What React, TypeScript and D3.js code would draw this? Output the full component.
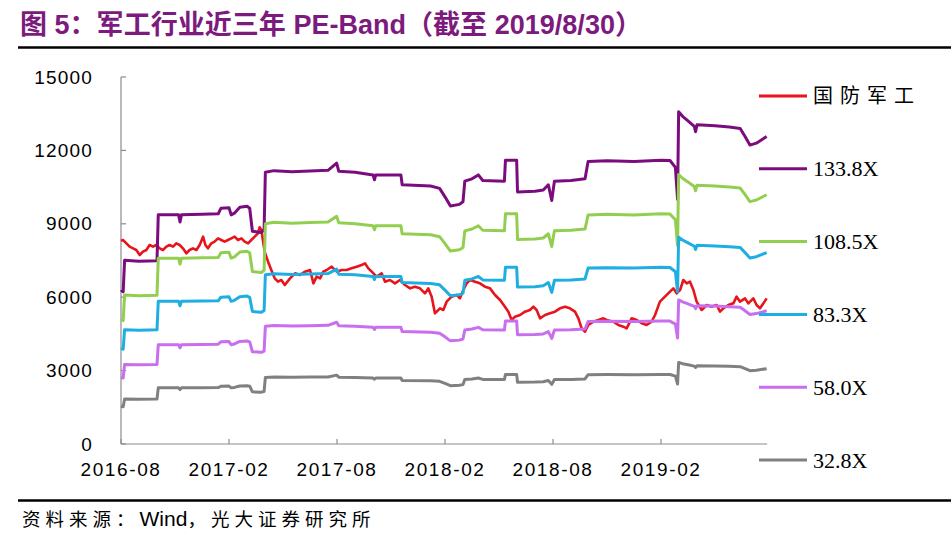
import React from 'react';
import * as d3 from 'd3';

const W = 951;
const H = 539;

const titleText = '图 5：军工行业近三年 PE-Band（截至 2019/8/30）';
const sourcePrefix = '资料来源：';
const sourceName = 'Wind';
const sourceSuffix = '，光大证券研究所';

// x values are months elapsed since 2016-08-30
const xTickMonths = [0, 6, 12, 18, 24, 30];
const xTickLabels = ['2016-08', '2017-02', '2017-08', '2018-02', '2018-08', '2019-02'];
const yTicks = [0, 3000, 6000, 9000, 12000, 15000];

const indexName = '国防军工';
const indexColor = '#E8141B';
const bandNames = ['133.8X', '108.5X', '83.3X', '58.0X', '32.8X'];
const bandMultiples = [133.8, 108.5, 83.3, 58.0, 32.8];
const bandColors = ['#7B0C7E', '#92CF50', '#1FAEE2', '#C86EEE', '#808080'];

// index earnings per unit (TTM)
const epsMonths = [
  0, 0.12, 0.2, 1.0, 2.0, 2.07, 3.2, 3.28, 3.36, 4.5, 5.4, 5.55, 6.0, 6.12, 6.3, 6.6, 7.0, 7.15, 7.3, 7.8,
  7.95, 8.02, 8.5, 9.5, 10.5, 11.5, 11.98, 12.1, 13.0, 14.0, 14.08, 14.15, 15.55, 15.62, 17.2, 17.7, 18.0,
  18.3, 18.8, 19.0, 19.1, 19.5, 19.85, 20.1, 21.3, 21.36, 21.98, 22.03, 23.0, 23.46, 23.74, 23.93, 24.08,
  25.0, 25.78, 25.95, 27.0, 28.5, 30.0, 30.5, 30.8, 30.92, 30.98, 31.2, 31.5, 31.85, 31.92, 32.0, 33.0,
  33.8, 34.4, 34.67, 34.94, 35.3, 35.87,
];
const epsValues = [
  47.1, 46.5, 56.1, 55.8, 56.0, 70.0, 70.0, 67.8, 70.0, 70.2, 70.3, 72.0, 72.2, 70.0, 70.5, 72.3, 72.6, 72.0, 65.0, 64.6,
  65.5, 83.0, 83.5, 83.2, 83.4, 83.6, 85.8, 83.3, 83.0, 82.2, 80.7, 82.2, 82.2, 79.2, 78.8, 78.1, 75.5,
  72.7, 73.2, 74.0, 80.3, 81.0, 82.2, 80.5, 80.3, 86.7, 86.7, 77.0, 77.2, 77.6, 79.2, 74.4, 80.3,
  80.5, 81.0, 86.3, 86.5, 86.3, 86.7, 86.6, 84.5, 74.7, 101.5, 100.1, 98.7, 97.0, 95.4, 97.5, 97.2,
  96.8, 96.4, 93.9, 91.3, 91.9, 93.9,
];

const indexMonths = [
  0, 0.11, 0.3, 0.48, 0.67, 0.85, 1.04, 1.22, 1.41, 1.59, 1.78, 1.96, 2.15, 2.33, 2.52, 2.7, 2.89, 3.07, 3.26,
  3.44, 3.63, 3.81, 4.0, 4.19, 4.37, 4.56, 4.69, 4.83, 5.02, 5.2, 5.39, 5.57, 5.76, 5.94, 6.13, 6.31, 6.5,
  6.69, 6.87, 7.06, 7.24, 7.43, 7.61, 7.7, 7.8, 7.98, 8.17, 8.35, 8.54, 8.72, 8.91, 9.1, 9.39, 9.67, 9.94,
  10.22, 10.5, 10.69, 10.87, 11.06, 11.24, 11.43, 11.7, 11.98, 12.26, 12.54, 12.81, 13.09, 13.37, 13.56,
  13.74, 13.93, 14.2, 14.48, 14.67, 14.94, 15.22, 15.5, 15.78, 16.06, 16.33, 16.61, 16.89, 17.07, 17.26,
  17.44, 17.72, 17.91, 18.09, 18.37, 18.65, 18.83, 19.02, 19.2, 19.39, 19.67, 19.94, 20.22, 20.5, 20.78,
  21.06, 21.33, 21.52, 21.7, 21.89, 22.17, 22.44, 22.72, 22.91, 23.09, 23.28, 23.56, 23.83, 24.11, 24.39,
  24.67, 24.94, 25.22, 25.41, 25.59, 25.78, 25.96, 26.24, 26.52, 26.8, 26.98, 27.35, 27.63, 27.91, 28.09,
  28.37, 28.65, 28.94, 29.2, 29.48, 29.67, 29.94, 30.22, 30.5, 30.69, 30.87, 31.06, 31.24, 31.43, 31.61,
  31.8, 31.98, 32.26, 32.54, 32.81, 33.09, 33.28, 33.46, 33.74, 34.02, 34.2, 34.39, 34.67, 34.85, 35.13,
  35.31, 35.5, 35.69, 35.87,
];
const indexValues = [
  8300, 8337, 8201, 8065, 7997, 7929, 7724, 7861, 7929, 8133, 8065, 8133, 7997, 7929, 8065, 8133, 8065, 8201, 8133,
  7997, 7793, 7929, 7997, 7929, 8133, 8474, 8133, 7997, 8201, 8270, 8406, 8337, 8270, 8337, 8406, 8474, 8337,
  8406, 8270, 8201, 8337, 8474, 8610, 8860, 8746, 7861, 7452, 7111, 6771, 6634, 6703, 6498, 6771, 6975, 6907,
  7043, 7111, 6566, 6839, 6771, 7043, 7111, 7247, 7043, 7111, 7111, 7179, 7247, 7316, 7384,
  7179, 7043, 6839, 6975, 6634, 6703, 6566, 6703, 6498, 6362, 6430, 6362, 6158, 6362, 6021,
  5340, 5545, 5477, 5817, 6021, 6090, 5953, 6294, 6566, 6703, 6634, 6566, 6430, 6362, 6090,
  5885, 5613, 5408, 5068, 5204, 5272, 5408, 5477, 5613, 5477, 5136, 5272, 5340, 5408, 5545,
  5613, 5545, 5408, 5136, 4727, 4590, 4863, 5000, 5068, 5136, 5068, 5000, 4863, 4795, 4727,
  5136, 5068, 4932, 4863, 5000, 5272, 5817, 6021, 6226, 6362, 6158, 6294, 6703, 6566, 6634,
  6294, 5817, 5477, 5681, 5613, 5681, 5408, 5545, 5681, 5749, 6021, 5817, 5953, 5749, 5953,
  5681, 5545, 5749, 5953,
];

const PLOT_LEFT = 121;
const PLOT_RIGHT = 769;
const PLOT_TOP = 77;
const PLOT_BOTTOM = 444;

export default function App() {
  const x = d3.scaleLinear().domain([0, 36]).range([PLOT_LEFT, PLOT_RIGHT]);
  const y = d3.scaleLinear().domain([0, 15000]).range([PLOT_BOTTOM, PLOT_TOP]);

  const line = d3
    .line<[number, number]>()
    .x((d) => x(d[0]))
    .y((d) => y(d[1]))
    .curve(d3.curveLinear);

  const indexPts: [number, number][] = indexMonths.map((m, i) => [m, indexValues[i]]);
  const bands = bandMultiples.map((mult) =>
    epsMonths.map((m, i) => [m, epsValues[i] * mult] as [number, number])
  );

  const axisEnd = x(35.9);
  const axisColor = '#8C8C8C';
  const legendX1 = 759;
  const legendX2 = 807;
  const legendY0 = 96;
  const legendStep = 72.8;

  const legendItems = [
    { name: indexName, color: indexColor },
    ...bandNames.map((n, i) => ({ name: n, color: bandColors[i] })),
  ];

  return (
    <svg
      width={W}
      height={H}
      viewBox={`0 0 ${W} ${H}`}
      style={{ position: 'absolute', left: 0, top: 0, background: '#fff' }}
    >
      <rect x={0} y={0} width={W} height={H} fill="#fff" />
      {/* Title */}
      <text
        x={20}
        y={34}
        fill="#7D1A7D"
        fontWeight="bold"
        fontSize={27}
        textLength={622}
        lengthAdjust="spacingAndGlyphs"
        fontFamily="'Liberation Sans', 'Noto Sans CJK SC', sans-serif"
      >
        {titleText}
      </text>
      <line x1={18} x2={W} y1={47.5} y2={47.5} stroke="#000" strokeWidth={2.5} />

      {/* Axes */}
      <line x1={PLOT_LEFT} x2={PLOT_LEFT} y1={PLOT_TOP} y2={PLOT_BOTTOM} stroke={axisColor} strokeWidth={1.2} />
      <line x1={PLOT_LEFT} x2={axisEnd} y1={PLOT_BOTTOM} y2={PLOT_BOTTOM} stroke={axisColor} strokeWidth={1.2} />
      {yTicks.map((t) => (
        <g key={'y' + t}>
          <line x1={PLOT_LEFT} x2={PLOT_LEFT + 5} y1={y(t)} y2={y(t)} stroke={axisColor} strokeWidth={1.2} />
          <text
            x={93}
            y={y(t) + 6.5}
            textAnchor="end"
            fontSize={19}
            letterSpacing={1.2}
            fontFamily="'Liberation Sans', Arial, sans-serif"
            fill="#000"
          >
            {t}
          </text>
        </g>
      ))}
      {xTickMonths.map((m, i) => (
        <g key={'x' + m}>
          <line x1={x(m)} x2={x(m)} y1={PLOT_BOTTOM} y2={PLOT_BOTTOM - 5} stroke={axisColor} strokeWidth={1.2} />
          <text
            x={x(m)}
            y={476}
            textAnchor="middle"
            fontSize={19}
            letterSpacing={1.6}
            fontFamily="'Liberation Sans', Arial, sans-serif"
            fill="#000"
          >
            {xTickLabels[i]}
          </text>
        </g>
      ))}

      {/* Series */}
      <path d={line(indexPts) || ''} fill="none" stroke={indexColor} strokeWidth={2.6} strokeLinejoin="round" />
      {bands.map((pts, i) => (
        <path
          key={bandNames[i]}
          d={line(pts) || ''}
          fill="none"
          stroke={bandColors[i]}
          strokeWidth={3}
          strokeLinejoin="round"
        />
      ))}

      {/* Legend */}
      {legendItems.map((it, i) => {
        const ly = legendY0 + i * legendStep;
        const isCjk = i === 0;
        return (
          <g key={it.name}>
            <line x1={legendX1} x2={legendX2} y1={ly} y2={ly} stroke={it.color} strokeWidth={3} />
            <text
              x={813}
              y={ly + (isCjk ? 7 : 7.5)}
              fontSize={isCjk ? 20 : 22}
              letterSpacing={isCjk ? 7 : 0}
              fontFamily={isCjk ? "'Noto Sans CJK SC', sans-serif" : "'Liberation Serif', 'Times New Roman', serif"}
              fill="#000"
            >
              {it.name}
            </text>
          </g>
        );
      })}

      {/* Footer */}
      <line x1={18} x2={W} y1={500.5} y2={500.5} stroke="#000" strokeWidth={2.5} />
      <text x={22} y={526} fontSize={18.5} fill="#000" fontFamily="'Noto Sans CJK SC', sans-serif">
        <tspan letterSpacing={5}>{sourcePrefix}</tspan>
        <tspan fontSize={21} fontFamily="'Liberation Sans', Arial, sans-serif">{sourceName}</tspan>
        <tspan letterSpacing={5}>{sourceSuffix}</tspan>
      </text>
    </svg>
  );
}
